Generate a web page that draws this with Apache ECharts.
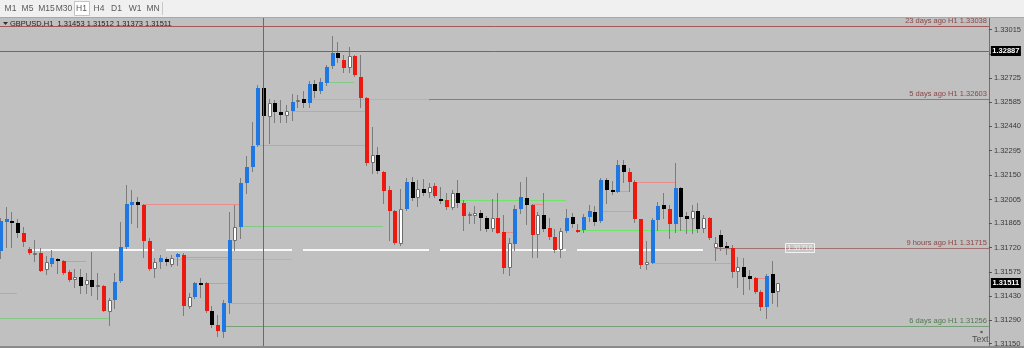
<!DOCTYPE html>
<html><head><meta charset="utf-8">
<script src="https://cdn.jsdelivr.net/npm/echarts@6/dist/echarts.min.js"></script>
<style>html,body{margin:0;padding:0;background:#c0c0c0;overflow:hidden}#c{width:1024px;height:348px;}</style>
</head><body><div id="c"></div>
<script>
// ---------- DATA ----------
const symbolTitle = 'GBPUSD,H1  1.31453 1.31512 1.31373 1.31511';
const timeframes = ['M1','M5','M15','M30','H1','H4','D1','W1','MN'];
const activeTimeframe = 'H1';
const slotCount = 174; // bars that fit in the window (137 drawn + empty space on the right)

const open = [1.31699,1.31871,1.31879,1.31867,1.31804,1.31709,1.31674,1.31689,1.31587,1.31621,
1.31654,1.31642,1.31576,1.31527,1.31543,1.31495,1.31527,1.31487,1.31491,1.31339,
1.31408,1.31523,1.31725,1.31971,1.31990,1.31973,1.31759,1.31591,1.31632,1.31652,
1.31617,1.31662,1.31676,1.31369,1.31424,1.31511,1.31507,1.31345,1.31258,1.31220,
1.31389,1.31761,1.31844,1.32101,1.32200,1.32327,1.32666,1.32497,1.32580,1.32527,
1.32503,1.32531,1.32586,1.32604,1.32577,1.32691,1.32651,1.32695,1.32798,1.32874,
1.32834,1.32788,1.32858,1.32731,1.32606,1.32220,1.32270,1.32170,1.32062,1.31939,
1.31741,1.31947,1.32111,1.32012,1.32066,1.32042,1.32085,1.32006,1.32002,1.31953,
1.32042,1.31986,1.31907,1.31909,1.31923,1.31894,1.31828,1.31894,1.31814,1.31597,
1.31741,1.31947,1.32012,1.31973,1.31794,1.31913,1.31834,1.31784,1.31705,1.31820,
1.31903,1.31824,1.31824,1.31903,1.31933,1.31877,1.32121,1.32062,1.32052,1.32210,
1.32170,1.32111,1.31887,1.31617,1.31630,1.31883,1.31973,1.31947,1.31860,1.32072,
1.31907,1.31887,1.31939,1.31828,1.31894,1.31715,1.31794,1.31729,1.31715,1.31576,
1.31602,1.31551,1.31537,1.31458,1.31365,1.31563,1.31453];
const high = [1.31895,1.31959,1.31933,1.31887,1.31840,1.31725,1.31765,1.31715,1.31670,1.31705,
1.31660,1.31646,1.31586,1.31591,1.31591,1.31567,1.31693,1.31567,1.31497,1.31418,
1.31567,1.31873,1.32091,1.32062,1.32022,1.31979,1.31775,1.31656,1.31676,1.31666,
1.31676,1.31689,1.31686,1.31448,1.31517,1.31541,1.31517,1.31375,1.31319,1.31408,
1.31933,1.31973,1.32133,1.32264,1.32467,1.32685,1.32731,1.32600,1.32596,1.32596,
1.32567,1.32632,1.32626,1.32651,1.32709,1.32715,1.32725,1.32804,1.32976,1.32943,
1.32864,1.32909,1.32864,1.32864,1.32616,1.32438,1.32319,1.32176,1.32085,1.31943,
1.32066,1.32131,1.32141,1.32121,1.32125,1.32105,1.32105,1.32078,1.32042,1.32062,
1.32121,1.32002,1.31933,1.31967,1.31943,1.31907,1.32006,1.32046,1.31913,1.31775,
1.31973,1.32111,1.32137,1.31979,1.31933,1.32046,1.31894,1.31828,1.31834,1.31947,
1.31923,1.31860,1.31919,1.31973,1.31967,1.32131,1.32131,1.32117,1.32240,1.32240,
1.32190,1.32121,1.31890,1.31761,1.31894,1.31992,1.32042,1.31973,1.32220,1.32081,
1.31933,1.31973,1.31983,1.31913,1.31903,1.31781,1.31824,1.31755,1.31735,1.31665,
1.31656,1.31586,1.31547,1.31468,1.31563,1.31642,1.31512];
const low = [1.31657,1.31725,1.31725,1.31784,1.31729,1.31682,1.31642,1.31580,1.31560,1.31610,
1.31567,1.31562,1.31523,1.31484,1.31448,1.31448,1.31438,1.31412,1.31343,1.31260,
1.31359,1.31515,1.31717,1.31864,1.31844,1.31662,1.31586,1.31543,1.31597,1.31617,
1.31611,1.31617,1.31319,1.31359,1.31418,1.31428,1.31339,1.31250,1.31194,1.31190,
1.31329,1.31705,1.31775,1.32044,1.32176,1.32323,1.32477,1.32343,1.32467,1.32467,
1.32467,1.32477,1.32553,1.32553,1.32553,1.32612,1.32640,1.32685,1.32785,1.32824,
1.32764,1.32764,1.32739,1.32553,1.32210,1.32164,1.32164,1.31986,1.31765,1.31741,
1.31737,1.31943,1.32002,1.31967,1.32032,1.32022,1.32022,1.31983,1.31947,1.31947,
1.31959,1.31824,1.31867,1.31867,1.31824,1.31820,1.31820,1.31804,1.31570,1.31557,
1.31705,1.31923,1.31860,1.31665,1.31662,1.31820,1.31769,1.31695,1.31662,1.31814,
1.31844,1.31814,1.31814,1.31879,1.31854,1.31873,1.31986,1.32038,1.32052,1.32111,
1.32057,1.31873,1.31597,1.31591,1.31626,1.31824,1.31894,1.31775,1.31814,1.31824,
1.31804,1.31804,1.31814,1.31814,1.31769,1.31646,1.31705,1.31682,1.31547,1.31487,
1.31444,1.31472,1.31452,1.31349,1.31300,1.31392,1.31373];
const close = [1.31877,1.31887,1.31867,1.31808,1.31753,1.31686,1.31689,1.31582,1.31632,1.31656,
1.31642,1.31567,1.31527,1.31543,1.31491,1.31527,1.31487,1.31497,1.31345,1.31408,
1.31517,1.31725,1.31977,1.31990,1.31971,1.31761,1.31591,1.31632,1.31660,1.31632,
1.31656,1.31682,1.31373,1.31424,1.31511,1.31507,1.31345,1.31260,1.31226,1.31389,
1.31765,1.31844,1.32101,1.32200,1.32323,1.32669,1.32501,1.32580,1.32527,1.32507,
1.32533,1.32586,1.32596,1.32577,1.32691,1.32651,1.32701,1.32794,1.32874,1.32844,
1.32788,1.32858,1.32745,1.32606,1.32220,1.32270,1.32176,1.32057,1.31939,1.31745,
1.31947,1.32111,1.32012,1.32066,1.32042,1.32081,1.32026,1.31998,1.31959,1.32042,
1.31983,1.31907,1.31917,1.31923,1.31894,1.31828,1.31894,1.31808,1.31597,1.31745,
1.31947,1.32018,1.31973,1.31794,1.31913,1.31828,1.31781,1.31705,1.31820,1.31897,
1.31860,1.31820,1.31900,1.31937,1.31873,1.32121,1.32062,1.32054,1.32210,1.32170,
1.32111,1.31887,1.31617,1.31632,1.31883,1.31967,1.31947,1.31860,1.32072,1.31903,
1.31887,1.31939,1.31828,1.31894,1.31775,1.31749,1.31725,1.31723,1.31576,1.31602,
1.31547,1.31531,1.31458,1.31365,1.31551,1.31452,1.31511];
// candle colouring used on the chart: B blue, W white, R red, K black
const candleType = ('BBKKRRWRWB'+'KRRWKWKWRW'+'BBBBKRRWBK'+'WBRWBKRKRB'+'BWBBBBKWKK'+
  'WBWKBKBBBK'+'RWRRRWKRRR'+'WBKWKWRKRW'+'KRWWKKWRRW'+'BBKRWKRRWB'+
  'KRBBKBKKBK'+'RRRWBBKRBK'+'KWKWRWKKRW'+'KKRRBKW').split('');

// right price scale
const priceTicks = [1.33015,1.32870,1.32725,1.32585,1.32440,1.32295,1.32150,1.32005,1.31865,1.31720,1.31575,1.31430,1.31290,1.31150];
const priceMin = 1.31135, priceMax = 1.33083;

// horizontal level segments: start bar, end bar, price, style
const levelStart = [0, 0, 11, 25, 29, 32, 36, 40, 39, 42, 45, 51, 53, 75, 57, 77, 88, 93, 105, 107, 101, 111, 114, 132, 125, 0, 5, 29, 53, 77, 101];
const levelEnd   = [3, 19, 15, 42, 51, 40, 40, 133, 173, 67, 64, 64, 75, 173, 62, 99, 90, 95, 111, 110, 122, 118, 128, 134, 173, 173, 27, 51, 75, 99, 123];
const levelPrice = [1.31451,1.31303,1.31642,1.31976,1.31653,1.31665,1.31511,1.31389,1.31256,1.31846,1.32327,1.32531,1.32603,1.32603,1.32701,1.32002,1.31810,1.31979,1.31937,1.32054,1.31824,1.32111,1.31630,1.31537,1.31715,1.33038,1.31708,1.31708,1.31708,1.31708,1.31708];
const levelStyle = ['g','g','p','p','G','p','p','g','s','g','g','g','G','b','g','G','p','p','g','g','G','p','g','p','b','r','w','w','w','w','w'];

// labelled levels at the right edge
const levelLabelPrice = [1.33038, 1.32603, 1.31715, 1.31256];
const levelLabelText = ['23 days ago H1 1.33038','5 days ago H1 1.32603','9 hours ago H1 1.31715','6 days ago H1 1.31256'];
const levelLabelKind = ['r','r','r','s'];

// price tags on the scale
const tagPrice = [1.32887, 1.31511];
const tagText = ['1.32887', '1.31511'];
// crosshair
const crossBar = 46, crossPrice = 1.32887;
// small price box on chart
const boxBar = 140, boxPrice = 1.31716, boxText = '1.31716';

// ---------- CHART ----------
const FONT = "'Liberation Sans Narrow','Liberation Sans',Arial,sans-serif";
const bodyFill = {B:'#1f78e2', W:'#ffffff', R:'#ec1a0e', K:'#000000'};
const lvlColor = {g:'#86c886', G:'#6ee468', p:'#e88e8e', b:'#a07272', s:'#78a078', r:'#a05858', w:'#f8f8f8'};
const lvlWidth = {g:1, G:1, p:1, b:1, s:1, r:1, w:2};

const cats = Array.from({length: slotCount}, (_, i) => String(i));
const candleData = open.map((o, i) => [i, o, close[i], low[i], high[i], 'BWRK'.indexOf(candleType[i])]);
const levelData = levelStart.map((s, i) => [s, levelEnd[i], levelPrice[i], i]);
const labelData = levelLabelPrice.map((p, i) => [slotCount - 1, p, i]);
const tagData = tagPrice.map((p, i) => [slotCount - 1, p, i]);

const chart = echarts.init(document.getElementById('c'), null, {renderer: 'canvas', width: 1024, height: 348});

const tfGraphics = [];
const tfCenters = [10.5, 27.5, 46.5, 64, 81.5, 99, 116.5, 135, 153];
timeframes.forEach((t, i) => {
  if (t === activeTimeframe) {
    tfGraphics.push({type: 'rect', shape: {x: 74.5, y: 1.5, width: 15, height: 14}, style: {fill: '#ffffff', stroke: '#c4c4c4', lineWidth: 1}, z: 101});
  }
  tfGraphics.push({type: 'text', x: tfCenters[i], y: 8.5, style: {text: t, fill: '#5a5a5a', font: '8.5px ' + FONT, textAlign: 'center', textVerticalAlign: 'middle'}, z: 102});
});

chart.setOption({
  animation: false,
  backgroundColor: '#c0c0c0',
  grid: {left: 0, right: 34, top: 18, bottom: 2, containLabel: false},
  xAxis: {type: 'category', data: cats, boundaryGap: false, axisLine: {show: false}, axisTick: {show: false}, axisLabel: {show: false}, splitLine: {show: false}},
  yAxis: {
    type: 'value', position: 'right', min: priceMin, max: priceMax, scale: true,
    axisLine: {show: true, lineStyle: {color: '#707070', width: 1}},
    axisTick: {show: true, customValues: priceTicks, length: 3, lineStyle: {color: '#505050'}},
    axisLabel: {customValues: priceTicks, formatter: v => v.toFixed(5), color: '#3a3a3a', fontSize: 7.5, fontFamily: FONT, margin: 5},
    splitLine: {show: false}
  },
  graphic: [
    {type: 'rect', shape: {x: 0, y: 0, width: 1024, height: 17}, style: {fill: '#f0f0f0'}, z: 100},
    {type: 'line', shape: {x1: 0, y1: 17.5, x2: 1024, y2: 17.5}, style: {stroke: '#a8a8a8', lineWidth: 1}, z: 100},
    {type: 'line', shape: {x1: 162.5, y1: 2, x2: 162.5, y2: 15}, style: {stroke: '#c8c8c8', lineWidth: 1}, z: 100},
    ...tfGraphics,
    {type: 'polygon', shape: {points: [[3, 22], [8, 22], [5.5, 25]]}, style: {fill: '#303030'}, z: 100},
    {type: 'text', x: 10, y: 24, style: {text: symbolTitle, fill: '#1c1c1c', font: '7.5px ' + FONT, textVerticalAlign: 'middle'}, z: 100},
    {type: 'circle', shape: {cx: 981.5, cy: 332, r: 1.3}, style: {fill: '#606060'}, z: 100},
    {type: 'text', x: 972, y: 340, style: {text: 'Text', fill: '#505050', font: '9px ' + FONT, textVerticalAlign: 'middle'}, z: 100},
    {type: 'rect', shape: {x: 0, y: 346, width: 1024, height: 2}, style: {fill: '#8a8a8a'}, z: 100}
  ],
  series: [
    { // level lines
      type: 'custom', clip: true, z: 2, data: levelData, encode: {x: [0, 1], y: 2},
      renderItem: (params, api) => {
        const k = levelStyle[api.value(3)];
        const a = api.coord([api.value(0), api.value(2)]);
        const b = api.coord([api.value(1), api.value(2)]);
        const w = lvlWidth[k];
        const y = w === 1 ? Math.round(a[1]) + 0.5 : Math.round(a[1]);
        return {type: 'line', shape: {x1: Math.round(a[0]), y1: y, x2: Math.round(b[0]), y2: y}, style: {stroke: lvlColor[k], lineWidth: w}};
      }
    },
    { // candles
      type: 'custom', clip: true, z: 3, data: candleData, encode: {x: 0, y: [1, 2, 3, 4]},
      renderItem: (params, api) => {
        const i = api.value(0);
        const pO = api.coord([i, api.value(1)]);
        const pC = api.coord([i, api.value(2)]);
        const pL = api.coord([i, api.value(3)]);
        const pH = api.coord([i, api.value(4)]);
        const t = 'BWRK'[api.value(5)];
        const x = Math.round(pO[0]);
        const top = Math.round(Math.min(pO[1], pC[1]));
        const bot = Math.round(Math.max(pO[1], pC[1]));
        const h = Math.max(2, bot - top);
        const kids = [{type: 'line', shape: {x1: x + 0.5, y1: Math.round(pH[1]), x2: x + 0.5, y2: Math.round(pL[1]) + 1}, style: {stroke: '#7c7c7c', lineWidth: 1}}];
        if (t === 'W') {
          kids.push({type: 'rect', shape: {x: x - 1 + 0.5, y: top + 0.5, width: 3, height: h - 1}, style: {fill: '#ffffff', stroke: '#6c6c6c', lineWidth: 1}});
        } else {
          kids.push({type: 'rect', shape: {x: x - 1, y: top, width: 4, height: h}, style: {fill: bodyFill[t]}});
        }
        return {type: 'group', children: kids};
      }
    },
    { // level captions
      type: 'custom', clip: false, z: 4, data: labelData, encode: {x: 0, y: 1},
      renderItem: (params, api) => {
        const p = api.coord([api.value(0), api.value(1)]);
        const idx = api.value(2);
        return {type: 'text', x: p[0] - 2, y: Math.round(p[1]) - 1, style: {text: levelLabelText[idx], fill: levelLabelKind[idx] === 's' ? '#4e7a4e' : '#8e4646', font: '7.5px ' + FONT, textAlign: 'right', textVerticalAlign: 'bottom'}};
      }
    },
    { // crosshair + on-chart box
      type: 'custom', clip: false, z: 5, data: [[crossBar, crossPrice]], encode: {x: 0, y: 1},
      renderItem: (params, api) => {
        const cs = params.coordSys;
        const p = api.coord([api.value(0), api.value(1)]);
        const bp = api.coord([boxBar, boxPrice]);
        const x = Math.round(p[0]) + 0.5, y = Math.round(p[1]) + 0.5;
        return {type: 'group', children: [
          {type: 'line', shape: {x1: x, y1: cs.y, x2: x, y2: cs.y + cs.height}, style: {stroke: '#6a6a6a', lineWidth: 1}},
          {type: 'line', shape: {x1: cs.x, y1: y, x2: cs.x + cs.width, y2: y}, style: {stroke: '#6a6a6a', lineWidth: 1}},
          {type: 'rect', shape: {x: Math.round(bp[0]) - 14.5, y: Math.round(bp[1]) - 4.5, width: 29, height: 9}, style: {fill: 'rgba(255,255,255,0.12)', stroke: '#f2f2f2', lineWidth: 1}},
          {type: 'text', x: Math.round(bp[0]), y: Math.round(bp[1]), style: {text: boxText, fill: '#f2f2f2', font: '7px ' + FONT, textAlign: 'center', textVerticalAlign: 'middle'}}
        ]};
      }
    },
    { // price tags on scale
      type: 'custom', clip: false, z: 10, data: tagData, encode: {x: 0, y: 1},
      renderItem: (params, api) => {
        const p = api.coord([api.value(0), api.value(1)]);
        const y = Math.round(p[1]);
        return {type: 'group', z2: 50, children: [
          {type: 'rect', shape: {x: p[0] + 2, y: y - 5, width: 30, height: 10}, style: {fill: '#000000'}},
          {type: 'text', x: p[0] + 17, y: y, style: {text: tagText[api.value(2)], fill: '#ffffff', font: 'bold 7.5px ' + FONT, textAlign: 'center', textVerticalAlign: 'middle'}}
        ]};
      }
    }
  ]
});
</script>
</body></html>
